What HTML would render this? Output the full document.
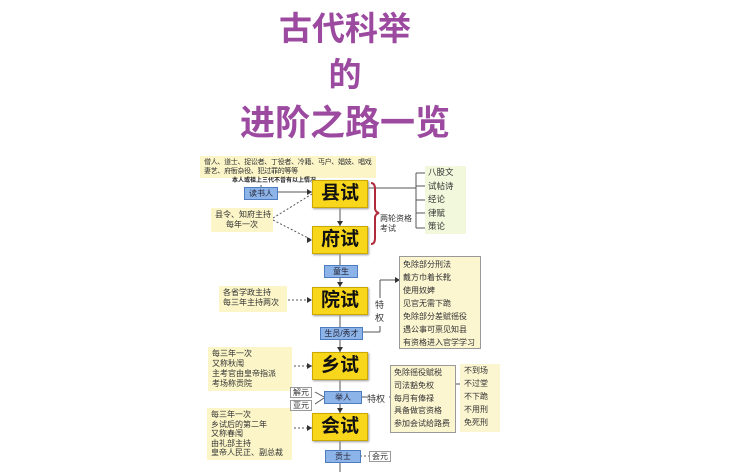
<!DOCTYPE html>
<html><head><meta charset="utf-8">
<style>
body{margin:0;width:751px;height:472px;background:#fff;position:relative;overflow:hidden;font-family:"Liberation Sans","Noto Sans CJK SC",sans-serif;}
.a{position:absolute;white-space:nowrap;}
.t{color:#9b4a9f;font-weight:bold;text-align:center;left:0;width:690px;font-size:33px;line-height:36px;}
.box{position:absolute;background:#f8d61c;border:1px solid #c9a800;width:54px;height:26px;font-size:19px;font-weight:bold;text-align:center;line-height:26px;color:#111;box-shadow:1px 1px 2px #999;}
.bl{position:absolute;background:#8db4e8;border:1px solid #4d7cc0;font-size:8px;text-align:center;color:#223;line-height:11px;height:11px;white-space:nowrap;}
.note{position:absolute;background:#fbf5c8;font-size:8px;line-height:10px;color:#333;padding:2px 4px;white-space:nowrap;overflow:hidden;}
.lst{position:absolute;background:#fbf5d0;border:1px solid #999;font-size:8px;line-height:13px;color:#333;padding:1px 3px;white-space:nowrap;}
.wt{position:absolute;background:#fff;border:1px solid #999;font-size:8px;line-height:9px;padding:0 2px;color:#333;}
</style></head><body>
<div class="a t" style="top:11px">古代科举</div>
<div class="a t" style="top:57px">的</div>
<div class="a t" style="top:106px;font-size:35px">进阶之路一览</div>

<svg class="a" style="left:0;top:0" width="751" height="472">
<g stroke="#555" stroke-width="1" fill="none">
<line x1="340" y1="207" x2="340" y2="226"/>
<line x1="340" y1="253" x2="340" y2="265"/>
<line x1="340" y1="277" x2="340" y2="287"/>
<line x1="340" y1="315" x2="340" y2="327"/>
<line x1="340" y1="339" x2="340" y2="352"/>
<line x1="340" y1="378" x2="340" y2="392"/>
<line x1="340" y1="402" x2="340" y2="413"/>
<line x1="340" y1="440" x2="340" y2="451"/>
<line x1="340" y1="461" x2="340" y2="472"/>
<line x1="277" y1="192" x2="312" y2="192"/>
<line x1="261" y1="180" x2="261" y2="187"/>
<line x1="273" y1="218" x2="312" y2="194" stroke-dasharray="2,2"/>
<line x1="273" y1="220" x2="312" y2="240" stroke-dasharray="2,2"/>
<line x1="288" y1="300" x2="312" y2="300" stroke-dasharray="2,2"/>
<line x1="294" y1="366" x2="312" y2="366" stroke-dasharray="2,2"/>
<line x1="294" y1="428" x2="312" y2="428" stroke-dasharray="2,2"/>
<line x1="362" y1="332" x2="380" y2="332"/>
<line x1="380" y1="332" x2="380" y2="326"/>
<line x1="380" y1="298" x2="380" y2="280"/>
<line x1="380" y1="280" x2="400" y2="280"/>
<line x1="368" y1="188" x2="416" y2="188"/>
<line x1="416" y1="173" x2="416" y2="228"/>
<line x1="416" y1="173" x2="425" y2="173"/><line x1="416" y1="186" x2="425" y2="186"/><line x1="416" y1="200" x2="425" y2="200"/><line x1="416" y1="213" x2="425" y2="213"/><line x1="416" y1="228" x2="425" y2="228"/>
<line x1="361" y1="397" x2="367" y2="397"/>
<line x1="389" y1="397" x2="393" y2="397"/>
<line x1="430" y1="384" x2="462" y2="384"/>
<line x1="315" y1="392" x2="324" y2="397"/><line x1="315" y1="404" x2="324" y2="398"/>
<line x1="360" y1="456" x2="370" y2="456" stroke-dasharray="2,2"/>
</g>
<g fill="#333">
<path d="M312 192l-5-3v6z"/><path d="M312 240l-5-3v6z"/><path d="M312 300l-5-3v6z"/><path d="M312 366l-5-3v6z"/><path d="M312 428l-5-3v6z"/>
<path d="M340 226l-3-5h6z"/><path d="M340 287l-3-5h6z"/><path d="M340 352l-3-5h6z"/><path d="M340 413l-3-5h6z"/>
<path d="M400 280l-5-3v6z"/><path d="M466 384l-5-3v6z"/>
</g>
<path d="M371 183 q4 0 4 6 v19 q0 4 4 5 q-4 1 -4 5 v20 q0 6 -4 6" stroke="#b02a3a" stroke-width="2" fill="none"/>
</svg>

<div class="note" style="left:200px;top:156px;width:168px;height:18px;font-size:7px;line-height:9px;letter-spacing:-0.3px">僧人、道士、捉讼者、丁役者、冷籍、丐户、娼妓、唱戏<br>妻艺、府衙杂役、犯过罪的等等</div>
<div class="a" style="left:232px;top:178px;font-size:6px;line-height:7px;color:#222;font-weight:bold;background:#fff">本人或祖上三代不曾有以上情况</div>
<div class="bl" style="left:244px;top:187px;width:32px">读书人</div>
<div class="note" style="left:211px;top:208px;width:54px;height:20px;text-align:center">县令、知府主持<br>每年一次</div>
<div class="note" style="left:219px;top:286px;width:60px;height:22px">各省学政主持<br>每三年主持两次</div>
<div class="note" style="left:208px;top:347px;width:76px;height:40px">每三年一次<br>又称秋闱<br>主考官由皇帝指派<br>考场称贡院</div>
<div class="note" style="left:207px;top:408px;width:77px;height:48px;line-height:9.6px">每三年一次<br>乡试后的第二年<br>又称春闱<br>由礼部主持<br>皇帝人民正、副总裁</div>

<div class="box" style="left:312px;top:180px">县试</div>
<div class="box" style="left:312px;top:226px">府试</div>
<div class="bl" style="left:324px;top:265px;width:32px">童生</div>
<div class="box" style="left:312px;top:287px">院试</div>
<div class="bl" style="left:320px;top:327px;width:41px">生员/秀才</div>
<div class="box" style="left:312px;top:352px">乡试</div>
<div class="bl" style="left:324px;top:391px;width:36px">举人</div>
<div class="box" style="left:312px;top:413px">会试</div>
<div class="bl" style="left:325px;top:450px;width:34px">贡士</div>
<div class="wt" style="left:290px;top:387px">解元</div>
<div class="wt" style="left:290px;top:400px">亚元</div>
<div class="wt" style="left:369px;top:451px">会元</div>

<div class="a" style="left:380px;top:214px;font-size:8px;line-height:10px;color:#333">两轮资格<br>考试</div>
<div class="a" style="left:425px;top:166px;width:38px;height:68px;background:#f2f8dc;font-size:8.5px;line-height:13.5px;color:#333;padding-left:3px">八股文<br>试帖诗<br>经论<br>律赋<br>策论</div>
<div class="a" style="left:375px;top:299px;font-size:9px;line-height:13px;color:#333;background:#fff">特<br>权</div>
<div class="lst" style="left:399px;top:256px;width:74px;height:89px">免除部分刑法<br>戴方巾着长靴<br>使用奴婢<br>见官无需下跪<br>免除部分差赋徭役<br>遇公事可禀见知县<br>有资格进入官学学习</div>
<div class="a" style="left:367px;top:392px;font-size:9px;color:#333">特权</div>
<div class="lst" style="left:390px;top:365px;width:58px;height:64px;line-height:12.8px">免除徭役赋税<br>司法豁免权<br>每月有俸禄<br>具备做官资格<br>参加会试给路费</div>
<div class="a" style="left:460px;top:364px;width:36px;height:68px;background:#fbf5d0;font-size:8px;line-height:13px;color:#333;padding-left:4px">不到场<br>不过堂<br>不下跪<br>不用刑<br>免死刑</div>
</body></html>
